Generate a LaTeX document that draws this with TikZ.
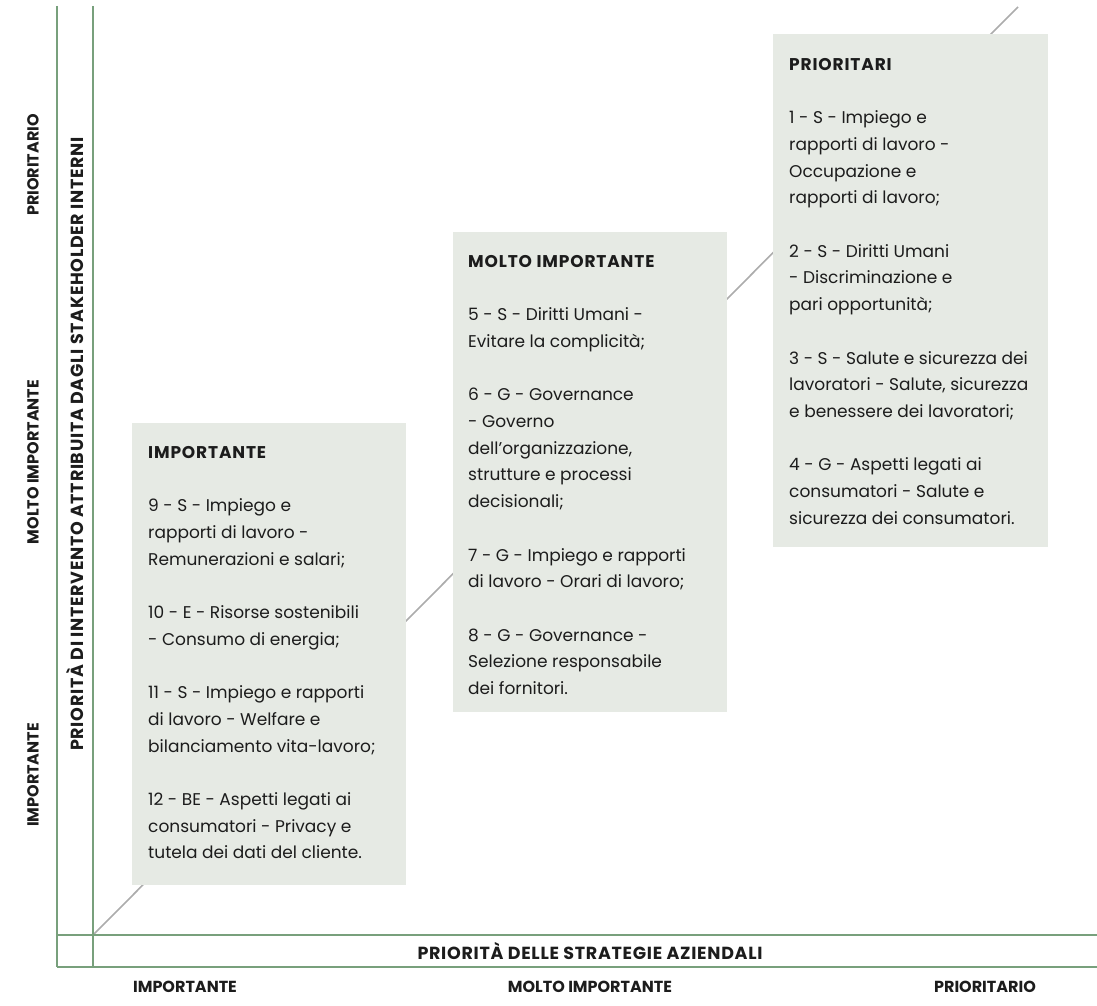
\documentclass[tikz,border=0pt]{standalone}
\usepackage{fontspec}
\setmainfont{Poppins}
\definecolor{axisgreen}{RGB}{120,160,124}
\definecolor{diaggray}{RGB}{172,172,172}
\definecolor{panelfill}{RGB}{230,234,228}
\definecolor{ink}{RGB}{28,28,28}
\newcommand{\panelhead}[1]{\rule{0pt}{12pt}{\bfseries\addfontfeatures{LetterSpace=5}#1}}
\begin{document}
\begin{tikzpicture}[x=1pt,y=-1pt,
  axisline/.style={draw=axisgreen, line width=1.5pt},
  diagline/.style={draw=diaggray, line width=1.6pt},
  paneltext/.style={anchor=north west, inner sep=0pt, align=left, text=ink,
    font=\fontsize{17}{26.7}\selectfont},
  axislabel/.style={text=ink, inner sep=0pt, font=\fontsize{16}{18}\selectfont\bfseries},
  axistitle/.style={text=ink, inner sep=0pt, font=\fontsize{17.5}{20}\selectfont\bfseries\addfontfeatures{LetterSpace=4}}
]
\useasboundingbox (0,0) rectangle (1097,1006);

% axis frame
\coordinate (v1t) at (57,6);   \coordinate (v1b) at (57,967);
\coordinate (v2t) at (93,6);   \coordinate (v2b) at (93,967);
\coordinate (h1l) at (57,935); \coordinate (h1r) at (1097,935);
\coordinate (h2l) at (57,967); \coordinate (h2r) at (1097,967);
\coordinate (dstart) at (93,935); \coordinate (dend) at (1018,7);

\draw[diagline] (dstart) -- (dend);
\draw[axisline] (v1t) -- (v1b);
\draw[axisline] (v2t) -- (v2b);
\draw[axisline] (h1l) -- (h1r);
\draw[axisline] (h2l) -- (h2r);

% panels
\path[fill=panelfill] (132,423) rectangle (406,885);
\path[fill=panelfill] (453,232) rectangle (727,712);
\path[fill=panelfill] (773,34) rectangle (1048,547);
\coordinate (p1) at (132,423);
\coordinate (p2) at (453,232);
\coordinate (p3) at (773,34);

\node[paneltext] (t1) at ([shift={(16,23)}]p1) {\panelhead{IMPORTANTE}\\[26.7pt]
9 - S - Impiego e\\
rapporti di lavoro -\\
Remunerazioni e salari;\\[26.7pt]
10 - E - Risorse sostenibili\\
- Consumo di energia;\\[26.7pt]
11 - S - Impiego e rapporti\\
di lavoro - Welfare e\\
bilanciamento vita-lavoro;\\[26.7pt]
12 - BE - Aspetti legati ai\\
consumatori - Privacy e\\
tutela dei dati del cliente.};

\node[paneltext] (t2) at ([shift={(15,23)}]p2) {\panelhead{MOLTO IMPORTANTE}\\[26.7pt]
5 - S - Diritti Umani -\\
Evitare la complicità;\\[26.7pt]
6 - G - Governance\\
- Governo\\
dell’organizzazione,\\
strutture e processi\\
decisionali;\\[26.7pt]
7 - G - Impiego e rapporti\\
di lavoro - Orari di lavoro;\\[26.7pt]
8 - G - Governance -\\
Selezione responsabile\\
dei fornitori.};

\node[paneltext] (t3) at ([shift={(16,24)}]p3) {\panelhead{PRIORITARI}\\[26.7pt]
1 - S - Impiego e\\
rapporti di lavoro -\\
Occupazione e\\
rapporti di lavoro;\\[26.7pt]
2 - S - Diritti Umani\\
- Discriminazione e\\
pari opportunità;\\[26.7pt]
3 - S - Salute e sicurezza dei\\
lavoratori - Salute, sicurezza\\
e benessere dei lavoratori;\\[26.7pt]
4 - G - Aspetti legati ai\\
consumatori - Salute e\\
sicurezza dei consumatori.};

% axis titles
\node[axistitle] (xtitle) at (590,951) {PRIORITÀ DELLE STRATEGIE AZIENDALI};
\node[axistitle, rotate=90] (ytitle) at (75,444) {PRIORITÀ DI INTERVENTO ATTRIBUITA DAGLI STAKEHOLDER INTERNI};

% category labels
\node[axislabel] (x1) at (185,987) {IMPORTANTE};
\node[axislabel] (x2) at (590,987) {MOLTO IMPORTANTE};
\node[axislabel] (x3) at (985,987) {PRIORITARIO};
\node[axislabel, rotate=90] (y1) at (33,775) {IMPORTANTE};
\node[axislabel, rotate=90] (y2) at (33,462) {MOLTO IMPORTANTE};
\node[axislabel, rotate=90] (y3) at (33,165) {PRIORITARIO};
\end{tikzpicture}
\end{document}
